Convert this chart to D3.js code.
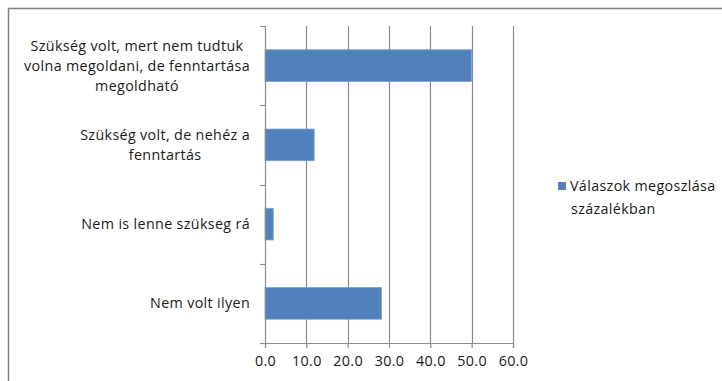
<!DOCTYPE html>
<html>
<head>
<meta charset="utf-8">
<script src="https://cdn.jsdelivr.net/npm/d3@7"></script>
<style>
  html, body { margin: 0; padding: 0; background: #fff; }
  svg { display: block; }
  text { font-family: "Open Sans", sans-serif; fill: #1a1a1a; letter-spacing: 0.35px; }
</style>
</head>
<body>
<script>
// Survey answers, in display order (top to bottom)
const categories = [
  ["Szükség volt, mert nem tudtuk", "volna megoldani, de fenntartása", "megoldható"],
  ["Szükség volt, de nehéz a", "fenntartás"],
  ["Nem is lenne szükseg rá"],
  ["Nem volt ilyen"]
];
const values = [50.0, 11.9, 2.0, 28.2];
const xTicks = [0, 10, 20, 30, 40, 50, 60];
const seriesName = ["Válaszok megoszlása", "százalékban"];

const W = 722, H = 381;
const plot = { left: 265, right: 513, top: 26, bottom: 343 };
const barColor = "#4f81bd";
const gridColor = "#8c8c8c";
const fontSize = 14.3;

const svg = d3.select("body").append("svg").attr("width", W).attr("height", H);

// Chart frame (top and left edges visible)
svg.append("line").attr("x1", 8).attr("x2", W).attr("y1", 8.5).attr("y2", 8.5)
  .attr("stroke", "#808080").attr("stroke-width", 1.5);
svg.append("line").attr("x1", 8.5).attr("x2", 8.5).attr("y1", 8).attr("y2", H)
  .attr("stroke", "#808080").attr("stroke-width", 1.5);

const x = d3.scaleLinear().domain([0, 60]).range([plot.left, plot.right]);
const y = d3.scaleBand().domain(d3.range(categories.length))
  .range([plot.top, plot.bottom]).paddingInner(0.6).paddingOuter(0.3);
const yBand = d3.scaleBand().domain(d3.range(categories.length))
  .range([plot.top, plot.bottom]);

// Vertical gridlines
svg.append("g").selectAll("line").data(xTicks.slice(1)).join("line")
  .attr("x1", d => Math.round(x(d)) + 0.5).attr("x2", d => Math.round(x(d)) + 0.5)
  .attr("y1", plot.top).attr("y2", plot.bottom)
  .attr("stroke", gridColor).attr("stroke-width", 1.2);

// Bars
svg.append("g").selectAll("rect").data(values).join("rect")
  .attr("x", x(0)).attr("y", (d, i) => y(i))
  .attr("width", d => x(d) - x(0)).attr("height", y.bandwidth())
  .attr("fill", barColor).attr("stroke", "#7fa3d6").attr("stroke-width", 0.8);

// X axis
const xAxis = svg.append("g").attr("transform", `translate(0,${plot.bottom})`)
  .call(d3.axisBottom(x).tickValues(xTicks).tickFormat(d3.format(".1f")).tickSize(5).tickPadding(8));
xAxis.select(".domain").attr("stroke", gridColor).attr("stroke-width", 1.2);
xAxis.selectAll(".tick line").attr("stroke", gridColor).attr("stroke-width", 1.2);
xAxis.selectAll(".tick text").attr("font-size", fontSize)
  .attr("font-family", "'Open Sans', sans-serif").attr("fill", "#1a1a1a");

// Y axis line and tick marks at band boundaries
svg.append("line").attr("x1", x(0) + 0.5).attr("x2", x(0) + 0.5)
  .attr("y1", plot.top).attr("y2", plot.bottom)
  .attr("stroke", gridColor).attr("stroke-width", 1.2);
const boundaries = d3.range(categories.length + 1).map(i => plot.top + i * yBand.step());
svg.append("g").selectAll("line").data(boundaries).join("line")
  .attr("x1", x(0) - 5).attr("x2", x(0))
  .attr("y1", d => Math.round(d) + 0.5).attr("y2", d => Math.round(d) + 0.5)
  .attr("stroke", gridColor).attr("stroke-width", 1.2);

// Category labels: each block's lines centred on one another,
// with the widest line ending just left of the axis ticks
const lineH = 20;
const labelRight = 250;
categories.forEach((lines, i) => {
  const cy = yBand(i) + yBand.bandwidth() / 2;
  const g = svg.append("g");
  const texts = lines.map((ln, j) => g.append("text")
    .attr("font-size", fontSize)
    .attr("y", cy + (j - (lines.length - 1) / 2) * lineH)
    .attr("dy", "0.35em").text(ln));
  const widths = texts.map(t => t.node().getBBox().width);
  const maxW = d3.max(widths);
  const cx = labelRight - maxW / 2;
  texts.forEach((t, j) => t.attr("x", cx - widths[j] / 2));
});

// Legend
const lg = svg.append("g");
lg.append("rect").attr("x", 558).attr("y", 182).attr("width", 8).attr("height", 8).attr("fill", barColor);
lg.append("text").attr("x", 570).attr("y", 186).attr("dy", "0.35em").attr("font-size", fontSize).text(seriesName[0]);
lg.append("text").attr("x", 571).attr("y", 209).attr("dy", "0.35em").attr("font-size", fontSize).text(seriesName[1]);
</script>
</body>
</html>
